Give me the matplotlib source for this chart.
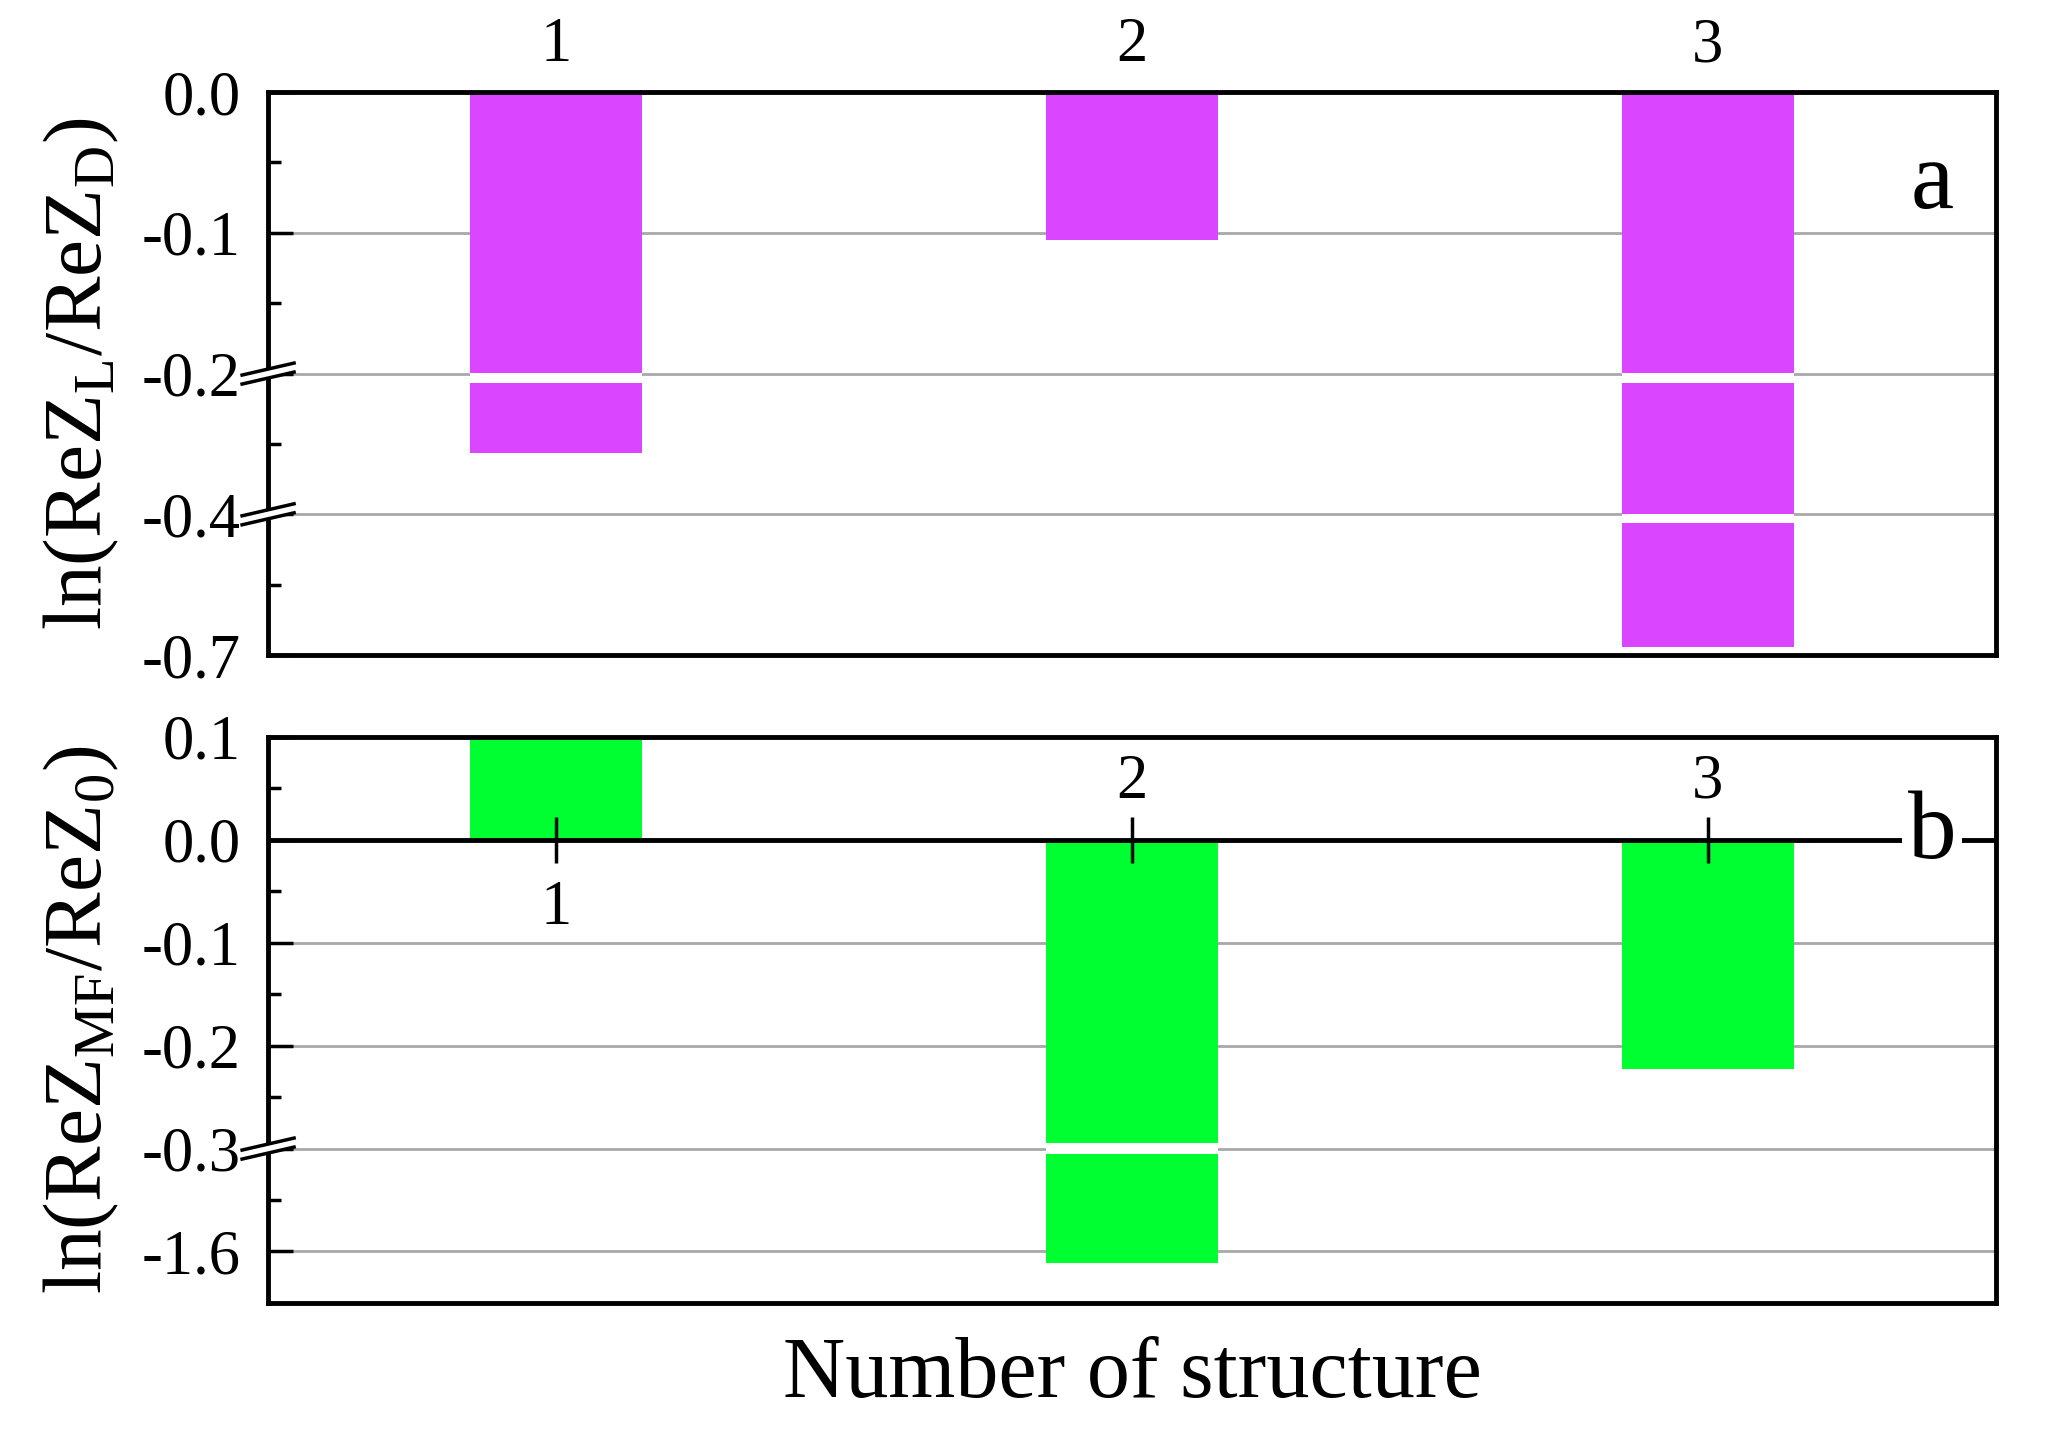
import numpy as np
import matplotlib
matplotlib.use("Agg")
import matplotlib.pyplot as plt

plt.rcParams['font.family'] = ['Liberation Serif', 'DejaVu Serif']
plt.rcParams['mathtext.fontset'] = 'custom'
plt.rcParams['mathtext.rm'] = 'Liberation Serif'

# data
structures = [1, 2, 3]
ratio_a = [-0.313, -0.105, -0.683]     # ln(ReZ_L/ReZ_D)
ratio_b = [0.097, -1.745, -0.223]      # ln(ReZ_MF/ReZ_0)

# broken axis knots (value -> position)
knots_a = [-1.0, -0.7, -0.4, -0.2, 0.0, 1.0]
pos_a = [-5, -4, -3, -2, 0, 10]
knots_b = [-2.9, -1.6, -0.3, 0.1, 1.0]
pos_b = [-5, -4, -3, 1, 10]

ticks_a = [0.0, -0.1, -0.2, -0.4, -0.7]
ticklabels_a = ['0.0', '-0.1', '-0.2', '-0.4', '-0.7']
minor_a = [-0.05, -0.15, -0.3, -0.55]
breaks_a = [-0.2, -0.4]

ticks_b = [0.1, 0.0, -0.1, -0.2, -0.3, -1.6]
ticklabels_b = ['0.1', '0.0', '-0.1', '-0.2', '-0.3', '-1.6']
minor_b = [0.05, -0.05, -0.15, -0.25, -0.95]
breaks_b = [-0.3]

magenta = '#DA46FF'
green = '#00FF30'
W = 0.3


def make_scale(kn, ps):
    kn = np.array(kn, float)
    ps = np.array(ps, float)
    fwd = lambda v: np.interp(v, kn, ps)
    inv = lambda p: np.interp(p, ps, kn)
    return fwd, inv


fig = plt.figure(figsize=(20.48, 14.34), dpi=100)
ax_a = fig.add_axes([0.1309, 0.5432, 0.8437, 0.3926])
ax_b = fig.add_axes([0.1309, 0.0914, 0.8437, 0.3947])


def style(ax, ticks, labels, minor, ylim):
    ax.set_ylim(*ylim)
    ax.set_xlim(0.5, 3.5)
    ax.set_yticks(ticks)
    ax.set_yticklabels(labels)
    ax.set_yticks(minor, minor=True)
    ax.tick_params(axis='y', which='major', direction='in', length=18, width=2.5,
                   labelsize=45, pad=20, right=False)
    ax.tick_params(axis='y', which='minor', direction='in', length=9, width=2.5, right=False)
    ax.yaxis.grid(True, color='#a8a8a8', lw=2)
    ax.set_axisbelow(True)
    for s in ax.spines.values():
        s.set_linewidth(3.5)


def break_marks(ax, fwd, brk, ylo, yhi, ax_h_px):
    yf = (fwd(brk) - fwd(ylo)) / (fwd(yhi) - fwd(ylo))
    dx = 26 / 1728.0
    dy = 6 / ax_h_px
    sep = 4.5 / ax_h_px
    xs = [-dx, dx, dx, -dx]
    ys = [yf - dy + sep, yf + dy + sep, yf + dy - sep, yf - dy - sep]
    ax.fill(xs, ys, color='white', transform=ax.transAxes, clip_on=False, zorder=5)
    for s in (sep, -sep):
        ax.plot([-dx, dx], [yf - dy + s, yf + dy + s], color='black', lw=2.5,
                transform=ax.transAxes, clip_on=False, zorder=6)


def bar_gaps(ax, fwd, inv, values, brk, lo, hi):
    for x, v in zip(structures, values):
        if v < brk:
            ax.bar(x, inv(fwd(brk) + hi) - inv(fwd(brk) - lo), W,
                   bottom=inv(fwd(brk) - lo), color='white', zorder=3)


# panel a
fa, ia = make_scale(knots_a, pos_a)
ax_a.set_yscale('function', functions=(fa, ia))
ax_a.bar(structures, ratio_a, W, color=magenta, zorder=2)
style(ax_a, ticks_a, ticklabels_a, minor_a, (-0.7, 0.0))
for b in breaks_a:
    bar_gaps(ax_a, fa, ia, ratio_a, b, 0.065, 0.005)
    break_marks(ax_a, fa, b, -0.7, 0.0, 563)
ax_a.xaxis.tick_top()
ax_a.set_xticks(structures)
ax_a.tick_params(axis='x', direction='in', length=16, width=2.5, labelsize=45, pad=12,
                 top=True, bottom=False, labeltop=True, labelbottom=False)
ax_a.text(0.963, 0.835, 'a', transform=ax_a.transAxes, fontsize=70,
          ha='center', va='center')
ax_a.set_ylabel(r'ln(ReZ$_\mathregular{L}$/ReZ$_\mathregular{D}$)', fontsize=60)
ax_a.yaxis.set_label_coords(-0.085, 0.5)

# panel b
fb, ib = make_scale(knots_b, pos_b)
ax_b.set_yscale('function', functions=(fb, ib))
ax_b.bar(structures, ratio_b, W, color=green, zorder=2)
style(ax_b, ticks_b, ticklabels_b, minor_b, (-2.25, 0.1))
for b in breaks_b:
    bar_gaps(ax_b, fb, ib, ratio_b, b, 0.05, 0.05)
    break_marks(ax_b, fb, b, -2.25, 0.1, 566)
ax_b.set_xticks([])
ax_b.axhline(0, color='black', lw=3.5, zorder=4)
ax_b.plot(structures, [0, 0, 0], ls='none', marker='|', ms=33, mew=2.5,
          color='black', zorder=5)
for x, v in zip(structures, ratio_b):
    off = -50 if v > 0 else 41
    ax_b.annotate(str(x), (x, 0), xytext=(0, off), textcoords='offset points',
                  ha='center', va='center', fontsize=45)
ax_b.text(0.963, -0.018, 'b', transform=ax_b.get_yaxis_transform(), fontsize=70,
          ha='center', va='baseline', zorder=6,
          bbox=dict(facecolor='white', edgecolor='none', pad=4))
ax_b.set_ylabel(r'ln(ReZ$_\mathregular{MF}$/ReZ$_\mathregular{0}$)', fontsize=60)
ax_b.yaxis.set_label_coords(-0.085, 0.5)

fig.text(0.553, 0.04, 'Number of structure', fontsize=62, ha='center', va='center')

fig.savefig('out.png', dpi=100, facecolor='white')
